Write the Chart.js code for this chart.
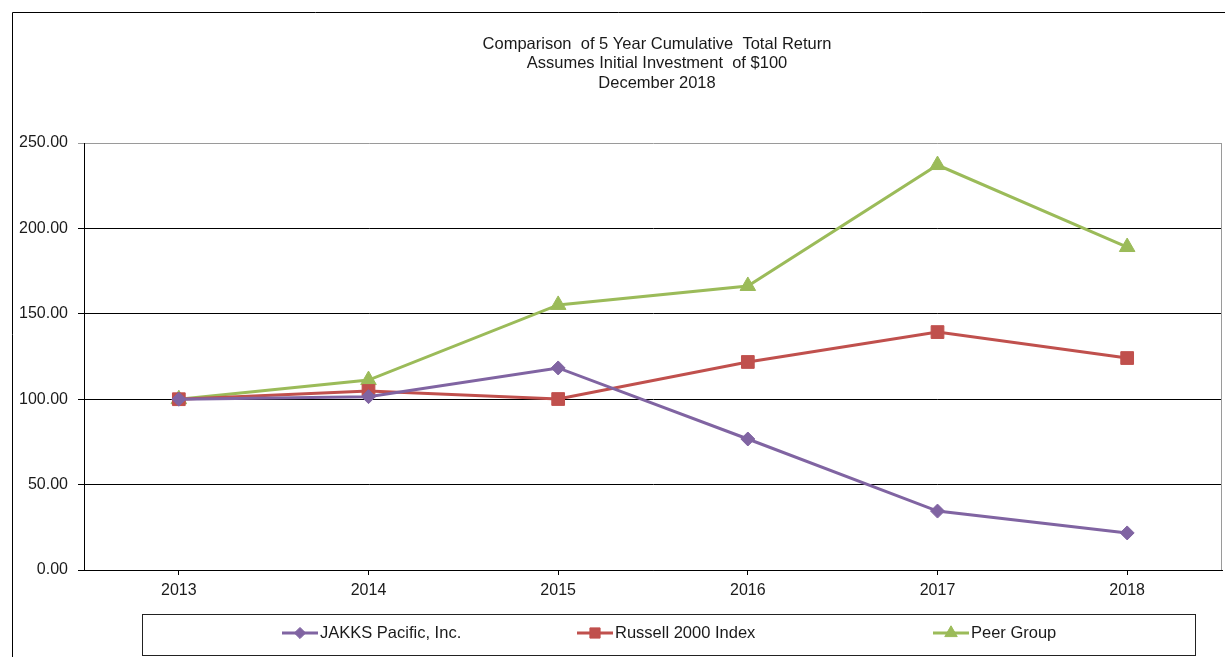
<!DOCTYPE html>
<html>
<head>
<meta charset="utf-8">
<script src="https://cdn.jsdelivr.net/npm/chart.js@4/dist/chart.umd.min.js"></script>
<style>
  html, body { margin: 0; padding: 0; background: #fff; }
  #wrap { position: relative; width: 1225px; height: 657px; }
</style>
</head>
<body>
<div id="wrap"><canvas id="tsrChart" width="1225" height="657"></canvas></div>
<script>
// data
const years = ["2013", "2014", "2015", "2016", "2017", "2018"];
const jakksValues = [100, 101.5, 118.3, 76.7, 34.5, 21.7];
const russellValues = [100, 104.8, 100.1, 121.8, 139.3, 124.1];
const peerValues = [100, 111.2, 155.2, 166.3, 237.1, 189.1];
const seriesNames = ["JAKKS Pacific, Inc.", "Russell 2000 Index", "Peer Group"];
const titleLines = [
  "Comparison  of 5 Year Cumulative  Total Return",
  "Assumes Initial Investment  of $100",
  "December 2018",
];
const yMin = 0, yMax = 250, yStep = 50;

const FONT = "Arial, 'Liberation Sans', sans-serif";
const colors = ["#8064A2", "#C0504D", "#9BBB59"];
const styles = ["rectRot", "rect", "triangle"];
const radii = [7, 9, 9];

// frame, title, right border and legend box
const decorPlugin = {
  id: "decor",
  afterDraw(chart) {
    const ctx = chart.ctx;
    const area = chart.chartArea;
    ctx.save();
    // outer frame
    ctx.strokeStyle = "#000";
    ctx.lineWidth = 1;
    ctx.beginPath();
    ctx.moveTo(12.5, 657);
    ctx.lineTo(12.5, 12.5);
    ctx.lineTo(1225, 12.5);
    ctx.stroke();

    // right border of the plot
    ctx.strokeStyle = "#9a9a9a";
    ctx.beginPath();
    ctx.moveTo(Math.round(area.right) - 0.5, area.top);
    ctx.lineTo(Math.round(area.right) - 0.5, area.bottom);
    ctx.stroke();

    // title
    ctx.fillStyle = "#1a1a1a";
    ctx.font = "16.5px " + FONT;
    ctx.textAlign = "center";
    ctx.textBaseline = "middle";
    const cx = (area.left + area.right) / 2 + 4;
    titleLines.forEach((line, i) => {
      ctx.fillText(line, cx, 44 + i * 19.5);
    });

    // legend
    ctx.strokeStyle = "#222";
    ctx.strokeRect(142.5, 614.5, 1053, 41);
    const markerX = [300, 595, 951];
    chart.data.datasets.forEach((ds, i) => {
      const y = 633;
      ctx.strokeStyle = ds.borderColor;
      ctx.lineWidth = 3;
      ctx.beginPath();
      ctx.moveTo(markerX[i] - 18, y);
      ctx.lineTo(markerX[i] + 18, y);
      ctx.stroke();
      ctx.fillStyle = ds.backgroundColor;
      ctx.strokeStyle = ds.borderColor;
      ctx.lineWidth = 1;
      Chart.helpers.drawPoint(ctx, {
        pointStyle: ds.pointStyle,
        radius: ds.pointRadius * 0.8,
        rotation: 0,
        borderWidth: 1,
      }, markerX[i], y);
      ctx.fillStyle = "#1a1a1a";
      ctx.font = "16.5px " + FONT;
      ctx.textAlign = "left";
      ctx.fillText(ds.label, markerX[i] + 20, y);
    });
    ctx.restore();
  },
};

const datasets = [jakksValues, russellValues, peerValues].map((vals, i) => ({
  label: seriesNames[i],
  data: vals,
  borderColor: colors[i],
  backgroundColor: colors[i],
  borderWidth: 3,
  pointStyle: styles[i],
  pointRadius: radii[i],
  pointHoverRadius: radii[i],
  pointBorderWidth: 1,
  tension: 0,
}));

new Chart(document.getElementById("tsrChart"), {
  type: "line",
  data: { labels: years, datasets: datasets },
  options: {
    responsive: false,
    animation: false,
    layout: {
      autoPadding: false,
      padding: { top: 143, left: 0, right: 3, bottom: 57 },
    },
    plugins: {
      legend: { display: false },
      title: { display: false },
      tooltip: { enabled: false },
    },
    scales: {
      x: {
        offset: true,
        grid: {
          offset: false,
          drawOnChartArea: false,
          tickLength: 5,
          color: "#000",
        },
        border: { color: "#000", width: 1 },
        ticks: {
          color: "#1a1a1a",
          padding: 6,
          font: { family: FONT, size: 16 },
        },
        afterFit(scale) {
          scale.height = 30;
          scale.paddingLeft = 0;
          scale.paddingRight = 0;
        },
      },
      y: {
        min: yMin,
        max: yMax,
        ticks: {
          stepSize: yStep,
          color: "#1a1a1a",
          padding: 10,
          font: { family: FONT, size: 16 },
          callback: (v) => Number(v).toFixed(2),
        },
        grid: {
          tickLength: 6,
          color: (c) => (c.tick && c.tick.value === yMax ? "#9a9a9a" : "#000"),
        },
        border: { color: "#000", width: 1 },
        afterFit(scale) { scale.width = 84; },
      },
    },
  },
  plugins: [decorPlugin],
});
</script>
</body>
</html>
